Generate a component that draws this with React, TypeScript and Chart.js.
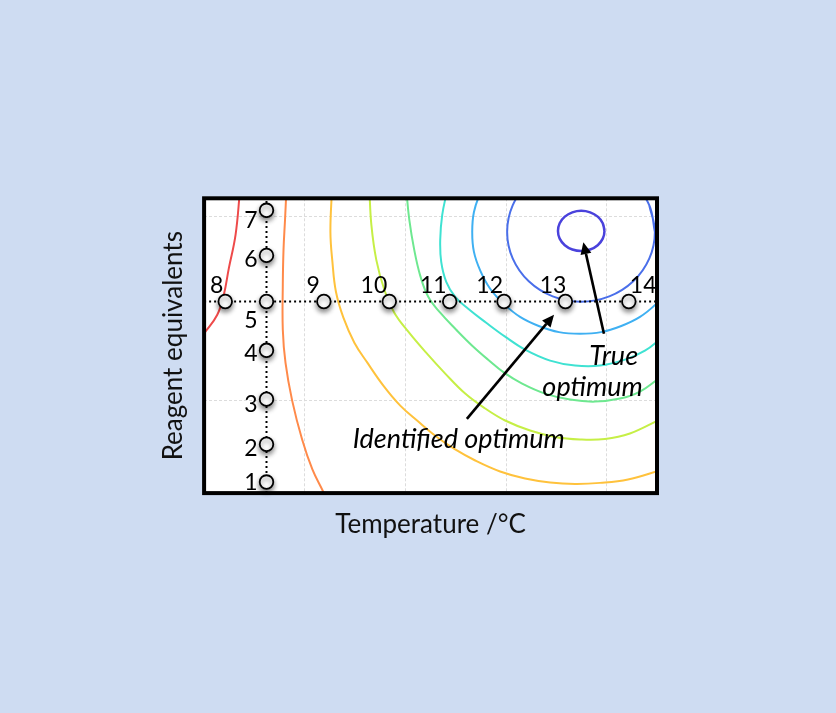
import { useEffect, useRef } from 'react';
import { Chart, registerables } from 'chart.js';

Chart.register(...registerables);

// ---- axes (arbitrary design units) ----
const X_MIN = 0;
const X_MAX = 4.5;
const Y_MIN = 0;
const Y_MAX = 3.2;

// ---- one-factor-at-a-time experiments ----
const tempRunY = 2.08;
const tempRunX = [0.21, 1.19, 1.84, 2.44, 2.98, 3.59, 4.22];
const tempRunLabels = ['8', '9', '10', '11', '12', '13', '14'];

const reagentRunX = 0.62;
const reagentRunY = [3.07, 2.58, 2.08, 1.55, 1.02, 0.53, 0.12];
const reagentRunLabels = ['7', '6', '5', '4', '3', '2', '1'];

// ---- response contours, innermost first ----
const contourViolet = [
  [3.978, 2.846], [3.961, 2.93], [3.911, 3.001], [3.836, 3.048], [3.747, 3.065], [3.659, 3.048],
  [3.584, 3.001], [3.533, 2.93], [3.516, 2.846], [3.533, 2.762], [3.584, 2.691], [3.659, 2.644],
  [3.747, 2.627], [3.836, 2.644], [3.911, 2.691], [3.961, 2.762], [3.978, 2.846], [3.961, 2.93],
];
const contourBlue = [
  [4.479, 2.835], [4.423, 3.125], [4.264, 3.371], [4.026, 3.535], [3.745, 3.593], [3.464, 3.535],
  [3.226, 3.371], [3.067, 3.125], [3.011, 2.835], [3.067, 2.545], [3.226, 2.299], [3.464, 2.135],
  [3.745, 2.077], [4.026, 2.135], [4.264, 2.299], [4.423, 2.545], [4.479, 2.835], [4.423, 3.125],
];
const contourLightBlue = [
  [4.806, 2.835], [4.725, 3.258], [4.492, 3.616], [4.145, 3.856], [3.735, 3.94], [3.325, 3.856],
  [2.978, 3.616], [2.745, 3.258], [2.664, 2.835], [2.745, 2.412], [2.978, 2.054], [3.325, 1.814],
  [3.735, 1.73], [4.145, 1.814], [4.492, 2.054], [4.725, 2.412], [4.806, 2.835], [4.725, 3.258],
];
const contourCyan = [
  [2.416, 3.29], [2.366, 3.02], [2.346, 2.749], [2.356, 2.51], [2.406, 2.294], [2.495, 2.131],
  [2.624, 2.001], [2.803, 1.849], [2.991, 1.698], [3.189, 1.557], [3.438, 1.438], [3.686, 1.384],
  [3.934, 1.384], [4.182, 1.449], [4.38, 1.546], [4.549, 1.687],
];
const contourGreen = [
  [2.009, 3.29], [2.039, 2.965], [2.088, 2.64], [2.148, 2.358], [2.227, 2.131], [2.346, 1.958],
  [2.505, 1.773], [2.664, 1.6], [2.822, 1.448], [2.981, 1.307], [3.16, 1.188], [3.388, 1.08],
  [3.636, 1.015], [3.884, 0.993], [4.132, 1.026], [4.331, 1.102], [4.529, 1.254],
];
const contourYellowGreen = [
  [1.642, 3.29], [1.662, 2.911], [1.711, 2.532], [1.791, 2.207], [1.89, 1.958], [2.029, 1.752],
  [2.197, 1.535], [2.396, 1.297], [2.594, 1.08], [2.793, 0.918], [2.991, 0.788], [3.239, 0.679],
  [3.487, 0.609], [3.735, 0.582], [3.983, 0.587], [4.231, 0.647], [4.529, 0.798],
];
const contourYellowOrange = [
  [1.27, 3.29], [1.255, 2.835], [1.275, 2.51], [1.31, 2.185], [1.384, 1.904], [1.493, 1.633],
  [1.622, 1.416], [1.781, 1.167], [1.949, 0.95], [2.128, 0.777], [2.306, 0.615], [2.495, 0.474],
  [2.694, 0.354], [2.941, 0.235], [3.189, 0.159], [3.438, 0.116], [3.686, 0.1], [3.934, 0.111],
  [4.212, 0.148], [4.529, 0.246],
];
const contourOrange = [
  [0.818, 3.29], [0.804, 2.965], [0.789, 2.64], [0.782, 2.261], [0.782, 1.774], [0.809, 1.413],
  [0.875, 1.004], [0.974, 0.582], [1.076, 0.257], [1.188, 0.004], [1.235, -0.122],
];
const contourRed = [
  [0.357, 3.29], [0.3125, 2.803], [0.246, 2.442], [0.196, 2.153], [0.131, 1.936], [0.015, 1.755],
  [-0.055, 1.665],
];

const contours = [
  contourViolet, contourBlue, contourLightBlue, contourCyan, contourGreen,
  contourYellowGreen, contourYellowOrange, contourOrange, contourRed,
];
const contourColors = [
  '#4a42dc', '#4a6fea', '#3fb0f2', '#3fe2d2', '#6ee890', '#c6ef46', '#ffc23c', '#ff8a4a', '#ee4a4a',
];
const contourWidths = [2.5, 2, 2, 2, 2, 2, 2, 2, 2];

// ---- annotations ----
const identifiedArrow = [2.611, 0.806, 3.477, 1.936]; // tail x, tail y, head x, head y
const trueArrow = [3.973, 1.73, 3.768, 2.724];
const annotationTexts = ['True', 'optimum', 'Identified optimum'];
const annotationX = [4.07, 3.86, 2.53];
const annotationY = [1.39, 1.05, 0.485]; // baselines

// ---- style (pixel offsets for labels) ----
const tempLabelDx = [-2, -4, -2, -3, -1, 1, 1];
const tempLabelAlign = ['right', 'right', 'right', 'right', 'right', 'right', 'left'];
const reagentLabelDy = [18, 12, 27, 11, 13, 12, 8];

const FONT = 'Lato, "Open Sans", sans-serif';

function drawArrow(ctx: CanvasRenderingContext2D, x0: number, y0: number, x1: number, y1: number) {
  const ang = Math.atan2(y1 - y0, x1 - x0);
  const len = 12;
  const half = 5.5;
  const bx = x1 - len * Math.cos(ang);
  const by = y1 - len * Math.sin(ang);
  ctx.save();
  ctx.strokeStyle = '#000';
  ctx.fillStyle = '#000';
  ctx.lineWidth = 2.6;
  ctx.beginPath();
  ctx.moveTo(x0, y0);
  ctx.lineTo(bx, by);
  ctx.stroke();
  ctx.beginPath();
  ctx.moveTo(x1, y1);
  ctx.lineTo(bx + half * Math.sin(ang), by - half * Math.cos(ang));
  ctx.lineTo(bx - half * Math.sin(ang), by + half * Math.cos(ang));
  ctx.closePath();
  ctx.fill();
  ctx.restore();
}

const overlayPlugin = {
  id: 'overlay',
  beforeDraw(chart: any) {
    const { ctx, chartArea: a } = chart;
    ctx.save();
    ctx.fillStyle = '#ffffff';
    ctx.fillRect(a.left, a.top, a.right - a.left, a.bottom - a.top);
    ctx.restore();
  },
  beforeDatasetDraw(chart: any, args: any) {
    if (chart.data.datasets[args.index].label === 'runs') {
      const ctx = chart.ctx;
      ctx.save();
      ctx.shadowColor = 'rgba(0,0,0,0.45)';
      ctx.shadowBlur = 5;
      ctx.shadowOffsetX = 0;
      ctx.shadowOffsetY = 3;
    }
  },
  afterDatasetDraw(chart: any, args: any) {
    if (chart.data.datasets[args.index].label === 'runs') {
      chart.ctx.restore();
    }
  },
  afterDatasetsDraw(chart: any) {
    const { ctx, chartArea: a } = chart;
    const xs = chart.scales.x;
    const ys = chart.scales.y;
    ctx.save();
    ctx.fillStyle = '#000';
    ctx.font = `23px ${FONT}`;
    ctx.textBaseline = 'alphabetic';
    tempRunX.forEach((x, i) => {
      ctx.textAlign = tempLabelAlign[i];
      ctx.fillText(tempRunLabels[i], xs.getPixelForValue(x) + tempLabelDx[i], ys.getPixelForValue(tempRunY) - 8);
    });
    ctx.textAlign = 'right';
    reagentRunY.forEach((y, i) => {
      ctx.fillText(reagentRunLabels[i], xs.getPixelForValue(reagentRunX) - 9, ys.getPixelForValue(y) + reagentLabelDy[i]);
    });
    ctx.restore();

    [identifiedArrow, trueArrow].forEach((a4) => {
      drawArrow(
        ctx,
        xs.getPixelForValue(a4[0]), ys.getPixelForValue(a4[1]),
        xs.getPixelForValue(a4[2]), ys.getPixelForValue(a4[3]),
      );
    });

    ctx.save();
    ctx.fillStyle = '#000';
    ctx.font = `italic 27px ${FONT}`;
    ctx.textAlign = 'center';
    ctx.textBaseline = 'alphabetic';
    annotationTexts.forEach((t, i) => {
      ctx.fillText(t, xs.getPixelForValue(annotationX[i]), ys.getPixelForValue(annotationY[i]));
    });
    ctx.restore();

    ctx.save();
    ctx.strokeStyle = '#000';
    ctx.lineWidth = 4;
    ctx.strokeRect(a.left, a.top, a.right - a.left, a.bottom - a.top);
    ctx.restore();
  },
};

export default function App() {
  const ref = useRef<HTMLCanvasElement>(null);

  useEffect(() => {
    const runs = [
      ...tempRunX.map((x) => ({ x, y: tempRunY })),
      ...reagentRunY.map((y) => ({ x: reagentRunX, y })),
    ];
    const datasets: any[] = [
      {
        label: 'runs',
        data: runs,
        showLine: false,
        pointRadius: 6.8,
        pointBorderWidth: 1.8,
        pointBackgroundColor: '#ffffff',
        pointBorderColor: '#000000',
        clip: false,
      },
      {
        label: 'temperature scan',
        data: [{ x: X_MIN, y: tempRunY }, { x: X_MAX, y: tempRunY }],
        showLine: true,
        borderColor: '#000',
        borderWidth: 2,
        borderDash: [2, 3],
        pointRadius: 0,
      },
      {
        label: 'reagent scan',
        data: [{ x: reagentRunX, y: Y_MIN }, { x: reagentRunX, y: Y_MAX }],
        showLine: true,
        borderColor: '#000',
        borderWidth: 2,
        borderDash: [2, 3],
        pointRadius: 0,
      },
      ...contours.map((c, i) => ({
        label: `contour ${i + 1}`,
        data: c.map(([x, y]) => ({ x, y })),
        showLine: true,
        borderColor: contourColors[i],
        borderWidth: contourWidths[i],
        pointRadius: 0,
        tension: 0.4,
        fill: false,
      })),
    ];

    const gridColor = '#dcdcdc';
    const chart = new Chart(ref.current!, {
      type: 'scatter',
      data: { datasets },
      options: {
        responsive: false,
        animation: false,
        devicePixelRatio: 1,
        layout: { padding: { left: 158, right: 179, top: 198.3, bottom: 173 } },
        plugins: { legend: { display: false }, tooltip: { enabled: false } },
        scales: {
          x: {
            type: 'linear',
            min: X_MIN,
            max: X_MAX,
            ticks: { display: false, stepSize: 1 },
            grid: { color: gridColor, lineWidth: 1, drawTicks: false },
            border: { display: false, dash: [3, 2] },
            title: {
              display: true,
              text: 'Temperature /°C',
              color: '#111',
              font: { family: FONT, size: 26 },
              padding: { top: 15.7, bottom: 0 },
            },
          },
          y: {
            type: 'linear',
            min: Y_MIN,
            max: Y_MAX,
            ticks: { display: false, stepSize: 1 },
            grid: {
              color: (c: any) => (c.tick && c.tick.value === 2 ? 'rgba(0,0,0,0)' : gridColor),
              lineWidth: 1,
              drawTicks: false,
            },
            border: { display: false, dash: [3, 2] },
            title: {
              display: true,
              text: 'Reagent equivalents',
              color: '#111',
              font: { family: FONT, size: 26 },
              padding: { top: 0, bottom: 14.9 },
            },
          },
        },
      },
      plugins: [overlayPlugin],
    } as any);
    return () => chart.destroy();
  }, []);

  return (
    <div
      style={{
        position: 'fixed',
        left: 0,
        top: 0,
        width: 836,
        height: 713,
        background: '#cedcf2',
      }}
    >
      <canvas ref={ref} width={836} height={713} style={{ display: 'block' }} />
    </div>
  );
}
